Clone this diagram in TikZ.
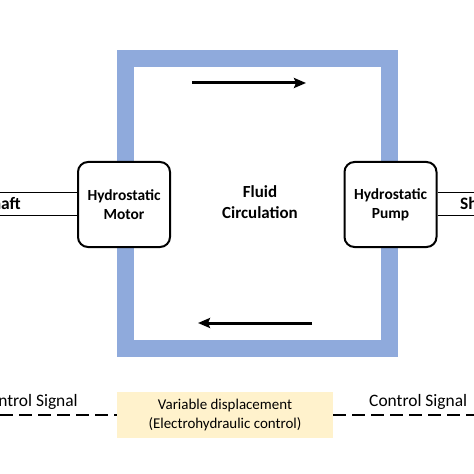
\documentclass[tikz,border=0pt]{standalone}
\usepackage{fontspec}
\setmainfont{Carlito}
\usetikzlibrary{arrows.meta,positioning}
\definecolor{loopblue}{HTML}{8FAADC}
\definecolor{ctrlyellow}{HTML}{FFF2CC}

\begin{document}
\begin{tikzpicture}[x=1bp,y=-1bp,
		unit/.style={draw,line width=2bp,rounded corners=10bp,fill=white,minimum width=92bp,minimum height=85bp,align=center,font=\fontsize{15.5}{19}\selectfont\bfseries},
		flow/.style={line width=3bp,-{Stealth[length=12bp,width=10bp,inset=2bp]}},
		shaft/.style={line width=1bp},
		signal/.style={line width=2bp,dash pattern=on 13bp off 6bp},
		label/.style={inner sep=0pt,font=\fontsize{17.5}{21}\selectfont}]
		\useasboundingbox (0,0) rectangle (474,474);
		% fluid loop
		\draw[loopblue,line width=17bp] (125,58.5) rectangle (389.5,348);
		\node[unit] (motor) at (124,204.5) {Hydrostatic\\Motor};
		\node[unit] (pump) at (390.5,204.5) {Hydrostatic\\Pump};
		\node[align=center,font=\fontsize{17}{21}\selectfont\bfseries] (fluid) at (260,202.5) {Fluid\\Circulation};
		\coordinate (top_a) at (192,83);
		\coordinate (top_b) at (306,83);
		\coordinate (bot_a) at (312,323);
		\coordinate (bot_b) at (198,323);
		\draw[flow] (top_a) -- (top_b);
		\draw[flow] (bot_a) -- (bot_b);
		% shafts
		\coordinate (shaft_l) at (0,204.5);
		\coordinate (shaft_r) at (474,204.5);
		\draw[shaft] ([yshift=11.5bp]motor.west) -- ([yshift=11.5bp]shaft_l);
		\draw[shaft] ([yshift=-11.5bp]motor.west) -- ([yshift=-11.5bp]shaft_l);
		\draw[shaft] ([yshift=11.5bp]pump.east) -- ([yshift=11.5bp]shaft_r);
		\draw[shaft] ([yshift=-11.5bp]pump.east) -- ([yshift=-11.5bp]shaft_r);
		\node[label,font=\fontsize{17.5}{21}\selectfont\bfseries,anchor=base east] (shaft_lt) at (21,210) {Shaft};
		\node[label,font=\fontsize{17.5}{21}\selectfont\bfseries,anchor=base west] (shaft_rt) at (460,209.5) {Shaft};
		% control
		\node[fill=ctrlyellow,minimum width=216bp,minimum height=46bp,align=center,font=\fontsize{15}{19}\selectfont] (ctrl) at (225,415) {Variable displacement\\(Electrohydraulic control)};
		\coordinate (sig_l) at (0,415);
		\coordinate (sig_r) at (474,415);
		\draw[signal] (sig_l) -- (ctrl.west);
		\draw[signal] (ctrl.east) -- (sig_r);
		\node[label,anchor=base east] (sig_lt) at (78,406) {Control Signal};
		\node[label,anchor=base west] (sig_rt) at (369,406) {Control Signal};
	\end{tikzpicture}
\end{document}
